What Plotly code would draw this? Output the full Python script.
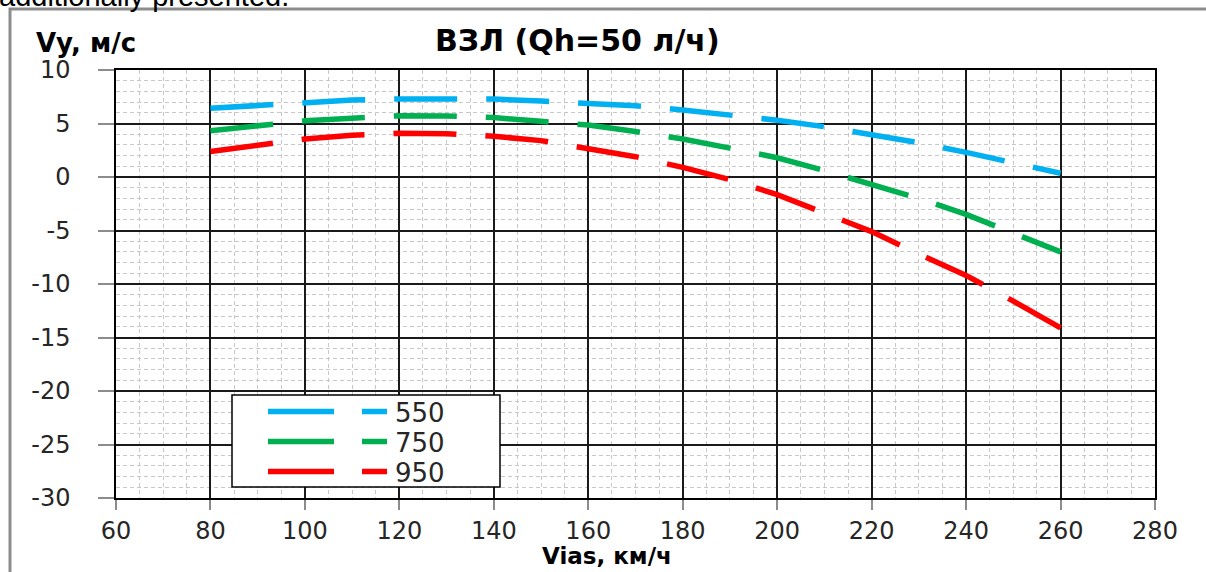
import plotly.graph_objects as go

# ---- data ----
vias = [80, 90, 100, 110, 120, 130, 140, 150, 160, 170, 180, 190, 200, 210, 220, 230, 240, 250, 260]
vy_550 = [6.42, 6.7, 7.0, 7.2, 7.3, 7.35, 7.28, 7.1, 6.92, 6.65, 6.27, 5.83, 5.3, 4.7, 3.95, 3.2, 2.3, 1.35, 0.35]
vy_750 = [4.33, 4.85, 5.25, 5.5, 5.73, 5.7, 5.55, 5.2, 4.85, 4.25, 3.55, 2.7, 1.8, 0.6, -0.7, -2.0, -3.5, -5.2, -7.0]
vy_950 = [2.38, 3.0, 3.55, 3.9, 4.08, 4.05, 3.8, 3.4, 2.7, 1.9, 0.9, -0.25, -1.65, -3.35, -5.1, -7.2, -9.2, -11.6, -14.1]
series_names = ["550", "750", "950"]
series_colors = ["#00B0F0", "#00B050", "#FF0000"]
x_ticks = [60, 80, 100, 120, 140, 160, 180, 200, 220, 240, 260, 280]
y_ticks = [10, 5, 0, -5, -10, -15, -20, -25, -30]
y_tick_labels = ["10", "5", "0", "-5", "-10", "-15", "-20", "-25", "-30"]
title_text = "ВЗЛ (Qh=50 л/ч)"
x_title = "Vias, км/ч"
y_title = "Vy, м/с"
top_text = "additionally presented."

W, H = 1206, 572
L, R, T, B = 116, 1155, 70, 498
FONT = "DejaVu Sans"
NBSP = "\u00a0"


def px(x):
    return (x - L) / (R - L)


def py(y):
    return (B - y) / (B - T)


fig = go.Figure()
for name, ys, col in zip(series_names, [vy_550, vy_750, vy_950], series_colors):
    fig.add_trace(go.Scatter(
        x=vias, y=ys, mode="lines", name=name,
        line=dict(color=col, width=5.5, dash="63px,29px"),
        showlegend=False,
    ))

axis_common = dict(
    showline=True, linecolor="#000000", linewidth=1.5, mirror=True,
    showgrid=True, gridcolor="#1a1a1a", gridwidth=1.5,
    zeroline=False,
    ticks="outside", tickcolor="#8c8c8c", tickwidth=1.5,
    tickfont=dict(family=FONT, size=24, color="#262626"),
)
minor_grid = dict(showgrid=True, gridcolor="#c8c8c8", griddash="4px,3px", gridwidth=1)

fig.update_xaxes(
    range=[60, 280], tickvals=x_ticks, ticklen=10, ticklabelstandoff=0,
    minor=dict(dtick=5, **minor_grid),
    **axis_common,
)
fig.update_yaxes(
    range=[-30, 10], tickvals=y_ticks,
    ticktext=[t + NBSP * 3 for t in y_tick_labels], ticklen=16,
    minor=dict(dtick=1, **minor_grid),
    **axis_common,
)

shapes = []
annotations = []

# outer frame
shapes.append(dict(type="rect", xref="paper", yref="paper",
                   x0=px(10), x1=px(1216), y0=py(9), y1=py(600),
                   line=dict(color="#8c8c8c", width=3), layer="below"))

# custom legend (Excel style sample: long dash + short dash)
shapes.append(dict(type="rect", xref="paper", yref="paper",
                   x0=px(232), x1=px(500), y0=py(395), y1=py(487),
                   line=dict(color="#000000", width=1.5), fillcolor="#ffffff", layer="above"))
for i, (name, col) in enumerate(zip(series_names, series_colors)):
    yy = 411.5 + 30 * i
    shapes.append(dict(type="line", xref="paper", yref="paper",
                       x0=px(268), x1=px(334), y0=py(yy), y1=py(yy),
                       line=dict(color=col, width=5.5), layer="above"))
    shapes.append(dict(type="line", xref="paper", yref="paper",
                       x0=px(362), x1=px(387), y0=py(yy), y1=py(yy),
                       line=dict(color=col, width=5.5), layer="above"))
    annotations.append(dict(xref="paper", yref="paper", x=px(393), y=py(yy + 1),
                            xanchor="left", yanchor="middle", showarrow=False,
                            text=name, font=dict(family=FONT, size=26, color="#262626")))

annotations.append(dict(xref="paper", yref="paper", x=px(577), y=py(41),
                        xanchor="center", yanchor="middle", showarrow=False,
                        text="<b>" + title_text + "</b>",
                        font=dict(family=FONT, size=30, color="#000000")))
annotations.append(dict(xref="paper", yref="paper", x=px(34), y=py(43),
                        xanchor="left", yanchor="middle", showarrow=False,
                        text="<b>" + y_title + "</b>",
                        font=dict(family=FONT, size=26, color="#000000")))
annotations.append(dict(xref="paper", yref="paper", x=px(607), y=py(556),
                        xanchor="center", yanchor="middle", showarrow=False,
                        text="<b>" + x_title + "</b>",
                        font=dict(family=FONT, size=23, color="#000000")))
annotations.append(dict(xref="paper", yref="paper", x=px(-3), y=py(14),
                        xanchor="left", yanchor="bottom", showarrow=False,
                        text=top_text,
                        font=dict(family="Liberation Sans", size=29, color="#000000")))

fig.update_layout(
    width=W, height=H,
    margin=dict(l=L, r=W - R, t=T, b=H - B, pad=0),
    paper_bgcolor="#ffffff", plot_bgcolor="#ffffff",
    shapes=shapes, annotations=annotations,
    showlegend=False,
)

fig.write_html("out.html")
